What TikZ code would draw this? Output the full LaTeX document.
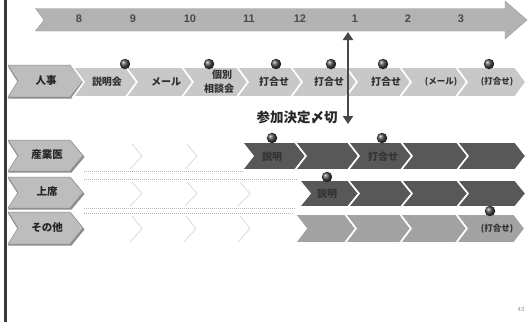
\documentclass[tikz,border=0pt]{standalone}
\usepackage{fontspec}
\setmainfont{Liberation Sans}
\newfontfamily\cjk{Noto Sans CJK JP}
\usetikzlibrary{arrows.meta}
\definecolor{barc}{HTML}{3A3A3A}
\definecolor{arrowc}{HTML}{B3B3B3}
\definecolor{rowone}{HTML}{C8C8C8}
\definecolor{darkc}{HTML}{585858}
\definecolor{midc}{HTML}{A2A2A2}
\definecolor{labc}{HTML}{BDBDBD}
\definecolor{labedge}{HTML}{8C8C8C}
\definecolor{txtc}{HTML}{262626}
\definecolor{dtxt}{HTML}{303030}
\definecolor{monthc}{HTML}{4A4A4A}
\definecolor{olinec}{HTML}{D2D2D2}
\definecolor{dotlc}{HTML}{B4B4B4}
\definecolor{darrowc}{HTML}{484848}

\newcommand{\chev}[5]{%
  \pgfmathsetmacro\chm{(#3+#4)/2}%
  \path[#5] (#1-11,#3) -- (#2-11,#3) -- (#2,\chm) -- (#2-11,#4) -- (#1-11,#4) -- (#1,\chm) -- cycle;}
\newcommand{\ochev}[3]{%
  \pgfmathsetmacro\chm{(#2+#3)/2}%
  \draw[olinestyle] (#1-10,#2+2) -- (#1,\chm) -- (#1-12,#3-1);}
\newcommand{\labbox}[2]{%
  \pgfmathsetmacro\chm{(#1+#2)/2}%
  \path[fill=labedge] (8,#1+1.5) -- (71.5,#1+1.5) -- (84.5,\chm+1.5) -- (71.5,#2+1.5) -- (8,#2+1.5) -- (18,\chm+1.5) -- cycle;
  \path[fill=labc, draw=labedge, line width=0.5] (8,#1) -- (70,#1) -- (83,\chm) -- (70,#2) -- (8,#2) -- (18,\chm) -- cycle;}

\tikzset{
  lightchev/.style={fill=rowone, draw=white, line width=1.6},
  darkchev/.style={fill=darkc, draw=white, line width=1.6},
  midchev/.style={fill=midc, draw=white, line width=1.6},
  olinestyle/.style={draw=olinec, line width=0.6},
  dotsep/.style={draw=dotlc, line width=0.5, dash pattern=on 1pt off 1pt},
  labtext/.style={font=\cjk\bfseries\fontsize{10.5}{12}\selectfont, text=txtc, inner sep=0},
  cheltext/.style={font=\cjk\bfseries\fontsize{10}{12}\selectfont, text=dtxt, inner sep=0},
  smalltext/.style={font=\cjk\bfseries\fontsize{8.5}{10}\selectfont, text=dtxt, inner sep=0},
  darktext/.style={font=\cjk\bfseries\fontsize{10}{12}\selectfont, text=black!80, inner sep=0},
  monthtext/.style={font=\bfseries\fontsize{11}{12}\selectfont, text=monthc, inner sep=0},
  ball/.style={circle, minimum size=10.5pt, inner sep=0, shading=ball, ball color=black!72},
}

\begin{document}
\begin{tikzpicture}[x=1pt,y=-1pt]
\useasboundingbox (0,0) rectangle (531,322);
\fill[white] (0,0) rectangle (531,322);

% left bar
\fill[barc] (3.5,0) rectangle (7,322);

% top time arrow
\path[fill=arrowc, draw=black!40, line width=0.4] (35.5,8.5) -- (505,8.5) -- (505,1) -- (527,20) -- (505,39) -- (505,31) -- (35.5,31) -- (44,20) -- cycle;
\foreach \m/\x [count=\i] in {8/79,9/133,10/190,11/249,12/300,1/355,2/408,3/461}
  \node[monthtext] (m\i) at (\x,19) {\m};

% dotted separators
\draw[dotsep] (84,171) -- (243,171);
\draw[dotsep] (84,179.5) -- (299,179.5);
\draw[dotsep] (84,208.5) -- (296,208.5);
\draw[dotsep] (84,213.5) -- (296,213.5);

% row 1
\labbox{65}{97}
\node[labtext] (l1) at (46,81) {人事};
\chev{84}{137}{67}{97}{lightchev}
\chev{137}{193}{67}{97}{lightchev}
\chev{193}{248}{67}{97}{lightchev}
\chev{248}{302}{67}{97}{lightchev}
\chev{302}{357}{67}{97}{lightchev}
\chev{357}{411}{67}{97}{lightchev}
\chev{411}{467}{67}{97}{lightchev}
\chev{467}{526}{67}{97}{lightchev}
\node[cheltext] (t11) at (107,82) {説明会};
\node[cheltext] (t12) at (166,82) {メール};
\node[cheltext] (t13) at (222,75) {個別};
\node[cheltext] (t13b) at (219,89) {相談会};
\node[cheltext] (t14) at (274,82) {打合せ};
\node[cheltext] (t15) at (329,82) {打合せ};
\node[cheltext] (t16) at (386,82) {打合せ};
\node[smalltext] (t17) at (441,82) {(メール)};
\node[smalltext] (t18) at (497,82) {(打合せ)};
\node[ball] (b11) at (125,64) {};
\node[ball] (b12) at (209,64) {};
\node[ball] (b13) at (276,64) {};
\node[ball] (b14) at (331,64) {};
\node[ball] (b15) at (383,64) {};
\node[ball] (b16) at (489,64) {};

% row 2
\labbox{140}{171}
\node[labtext] (l2) at (47,155) {産業医};
\ochev{142}{142}{170}
\ochev{197}{142}{170}
\chev{253}{306}{142}{170}{darkchev}
\chev{306}{359}{142}{170}{darkchev}
\chev{359}{412}{142}{170}{darkchev}
\chev{412}{468}{142}{170}{darkchev}
\chev{468}{526}{142}{170}{darkchev}
\node[darktext] (t21) at (272,157) {説明};
\node[darktext] (t22) at (383,157) {打合せ};
\node[ball] (b21) at (272,138) {};
\node[ball] (b22) at (382,138) {};

% row 3
\labbox{177}{208}
\node[labtext] (l3) at (47,192) {上席};
\ochev{142}{180}{207}
\ochev{197}{180}{207}
\ochev{250}{180}{207}
\chev{310}{359}{180}{207}{darkchev}
\chev{359}{412}{180}{207}{darkchev}
\chev{412}{468}{180}{207}{darkchev}
\chev{468}{526}{180}{207}{darkchev}
\node[darktext] (t31) at (327,194) {説明};
\node[ball] (b31) at (327,177) {};

% row 4
\labbox{212}{244}
\node[labtext] (l4) at (47,228) {その他};
\ochev{142}{214}{243}
\ochev{196}{214}{243}
\ochev{250}{214}{243}
\chev{306}{356}{214}{243}{midchev}
\chev{356}{411}{214}{243}{midchev}
\chev{411}{467}{214}{243}{midchev}
\chev{467}{525}{214}{243}{midchev}
\node[smalltext] (t41) at (497,229) {(打合せ)};
\node[ball] (b41) at (490,211) {};

% deadline double arrow
\coordinate (atop) at (348,32);
\coordinate (abot) at (348,124);
\draw[darrowc, line width=2.2, {Triangle[width=10pt,length=8pt]}-{Triangle[width=10pt,length=8pt]}] (atop) -- (abot);
\node[font=\cjk\bfseries\fontsize{13.5}{15}\selectfont, text=txtc, inner sep=0] (dl) at (297,117) {参加決定〆切};

% page number
\node[font=\fontsize{6}{7}\selectfont, text=black!45, inner sep=0] (pg) at (521,309) {43};
\end{tikzpicture}
\end{document}
